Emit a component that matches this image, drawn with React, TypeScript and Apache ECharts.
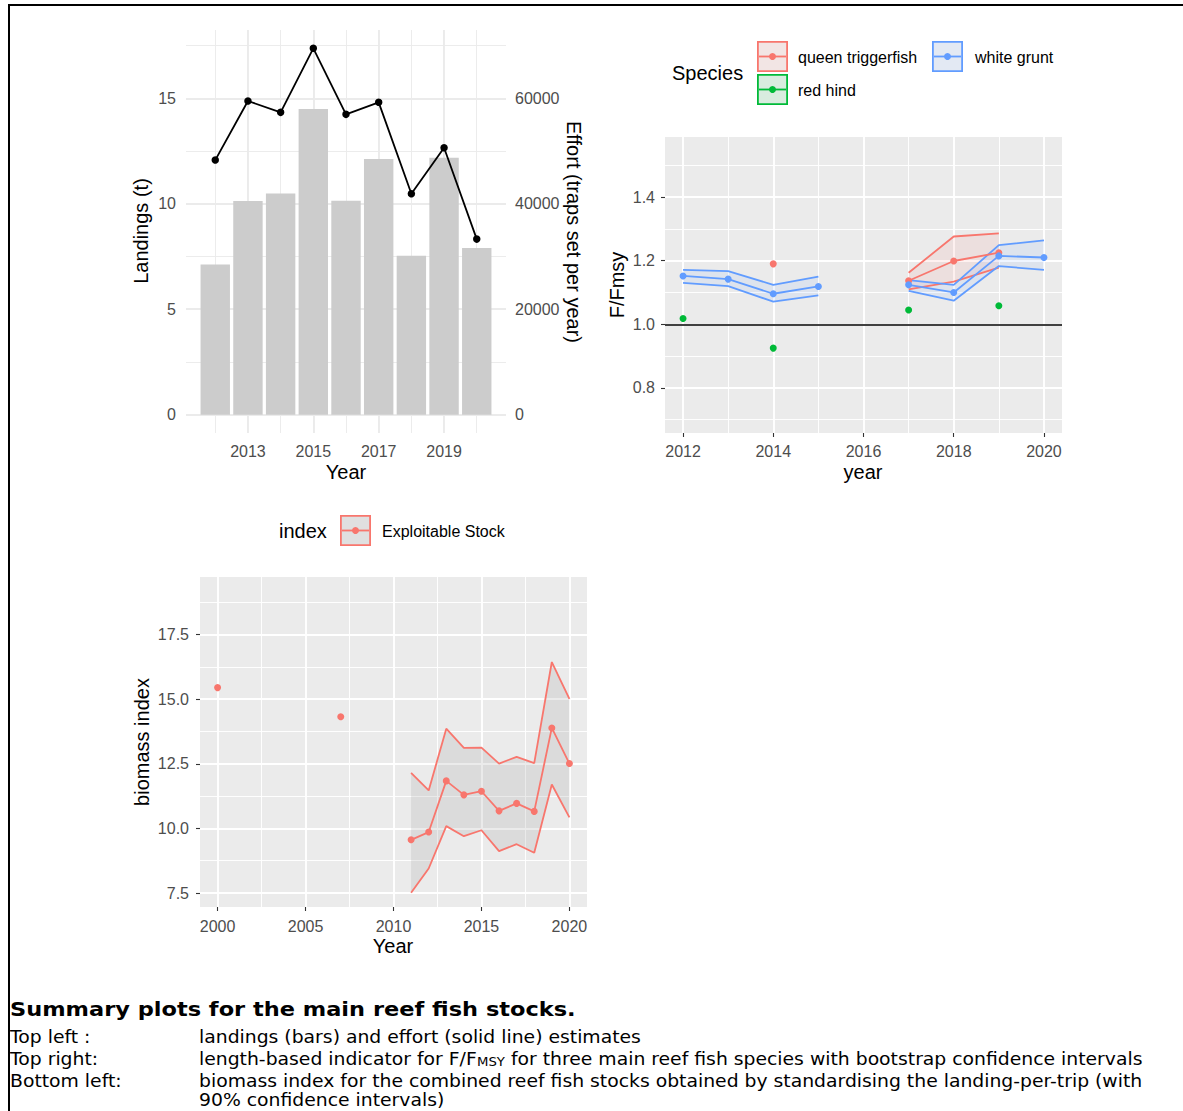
import React, { useEffect, useRef } from "react";
import * as echarts from "echarts";

// ---------- Landings (bars) and effort (line), top left ----------
const LANDING_YEARS = [2012, 2013, 2014, 2015, 2016, 2017, 2018, 2019, 2020];
const LANDINGS_T = [7.12, 10.13, 10.49, 14.49, 10.14, 12.12, 7.53, 12.18, 7.9];
const EFFORT_TRAPS = [48290, 59490, 57340, 69490, 56960, 59240, 41900, 50630, 33300];
const EFFORT_PER_TONNE = 4000; // secondary axis = landings axis x 4000
const LANDING_TICKS = [0, 5, 10, 15];
const LANDING_MINOR = [2.5, 7.5, 12.5, 17.5];
const EFFORT_TICKS = [0, 20000, 40000, 60000];
const TL_YEAR_TICKS = [2013, 2015, 2017, 2019];
const TL_YEAR_MINOR = [2012, 2014, 2016, 2018, 2020];

// ---------- F/Fmsy by species, top right ----------
const FF_YEARS = [2012, 2013, 2014, 2015, 2016, 2017, 2018, 2019, 2020];
const QT_F = [null, null, 1.19, null, null, 1.137, 1.199, 1.225, null];
const QT_LO = [null, null, null, null, null, 1.11, 1.134, 1.178, null];
const QT_HI = [null, null, null, null, null, 1.162, 1.276, 1.286, null];
const RH_F = [1.018, null, 0.925, null, null, 1.045, null, 1.058, null];
const WG_F = [1.152, 1.142, 1.096, 1.119, null, 1.124, 1.1, 1.215, 1.21];
const WG_LO = [1.13, 1.12, 1.071, 1.091, null, 1.105, 1.074, 1.183, 1.171];
const WG_HI = [1.171, 1.167, 1.124, 1.15, null, 1.139, 1.124, 1.249, 1.264];
const F_MSY_REF = 1.0;
const FF_TICKS = [0.8, 1.0, 1.2, 1.4];
const FF_MINOR = [0.7, 0.9, 1.1, 1.3, 1.5];
const FF_YEAR_TICKS = [2012, 2014, 2016, 2018, 2020];
const FF_YEAR_MINOR = [2013, 2015, 2017, 2019];

// ---------- Biomass index, bottom left ----------
const BIO_YEARS = [2000, 2007, 2011, 2012, 2013, 2014, 2015, 2016, 2017, 2018, 2019, 2020];
const BIO_INDEX = [15.45, 14.32, 9.56, 9.86, 11.84, 11.3, 11.44, 10.68, 10.97, 10.66, 13.89, 12.51];
const BIO_LO = [null, null, 7.51, 8.45, 10.09, 9.7, 9.93, 9.12, 9.39, 9.06, 11.7, 10.43];
const BIO_HI = [null, null, 12.15, 11.47, 13.86, 13.12, 13.13, 12.51, 12.77, 12.53, 16.44, 15.01];
const BIO_TICKS = [7.5, 10, 12.5, 15, 17.5];
const BIO_MINOR = [8.75, 11.25, 13.75, 16.25, 18.75];
const BIO_YEAR_TICKS = [2000, 2005, 2010, 2015, 2020];
const BIO_YEAR_MINOR = [2002.5, 2007.5, 2012.5, 2017.5];

// ---------- Caption ----------
const CAPTION_TITLE = "Summary plots for the main reef fish stocks.";
const CAPTION_ROW1 = ["Top left :", "landings (bars) and effort (solid line) estimates"];
const CAPTION_ROW2_LABEL = "Top right:";
const CAPTION_ROW2_PARTS = [
  "length-based indicator for F/F",
  "MSY",
  " for three main reef fish species with bootstrap confidence intervals",
];
const CAPTION_ROW3 = [
  "Bottom left:",
  "biomass index for the combined reef fish stocks obtained by standardising the landing-per-trip (with",
];
const CAPTION_ROW4 = "90% confidence intervals)";

const RED = "#F8766D";
const GREEN = "#00BA38";
const BLUE = "#619CFF";
const FONT = "Liberation Sans";
const AXIS_TEXT = "#4d4d4d";

type Num = number | null;

// Line data with breaks where a value is missing or years are not consecutive.
function lineData(years: number[], values: Num[]) {
  const out: any[] = [];
  for (let i = 0; i < years.length; i++) {
    if (i > 0 && years[i] - years[i - 1] > 1) out.push([(years[i] + years[i - 1]) / 2, null]);
    out.push([years[i], values[i]]);
  }
  return out;
}

// Consecutive runs of [year, lo, hi] for drawing confidence ribbons.
function ribbonRuns(years: number[], lo: Num[], hi: Num[]) {
  const runs: number[][][] = [];
  let cur: number[][] = [];
  for (let i = 0; i < years.length; i++) {
    const ok = lo[i] != null && hi[i] != null;
    const contiguous = i === 0 || years[i] - years[i - 1] === 1;
    if (!ok || !contiguous) {
      if (cur.length > 1) runs.push(cur);
      cur = [];
    }
    if (ok) cur.push([years[i], lo[i] as number, hi[i] as number]);
  }
  if (cur.length > 1) runs.push(cur);
  return runs;
}

function ribbonSeries(run: number[][], xi: number, yi: number, fill: string) {
  return {
    type: "custom",
    xAxisIndex: xi,
    yAxisIndex: yi,
    data: run,
    z: 2,
    silent: true,
    encode: { x: 0, y: [1, 2] },
    renderItem: (params: any, api: any) => {
      if (params.dataIndex !== 0) return null;
      const upper = run.map((r) => api.coord([r[0], r[2]]));
      const lower = run.map((r) => api.coord([r[0], r[1]])).reverse();
      return {
        type: "polygon",
        shape: { points: upper.concat(lower) },
        style: { fill, stroke: "none" },
      };
    },
  };
}

function boundLine(years: number[], vals: Num[], xi: number, yi: number, color: string) {
  return {
    type: "line",
    xAxisIndex: xi,
    yAxisIndex: yi,
    data: lineData(years, vals),
    symbol: "none",
    connectNulls: false,
    silent: true,
    z: 3,
    lineStyle: { color, width: 1.8 },
  };
}

function midLine(years: number[], vals: Num[], xi: number, yi: number, color: string, size = 7) {
  return {
    type: "line",
    xAxisIndex: xi,
    yAxisIndex: yi,
    data: lineData(years, vals),
    symbol: "circle",
    symbolSize: size,
    showSymbol: true,
    connectNulls: false,
    silent: true,
    z: 4,
    itemStyle: { color },
    lineStyle: { color, width: 1.8 },
  };
}

function gridLines(
  xi: number,
  yi: number,
  xMajor: number[],
  xMinor: number[],
  yMajor: number[],
  yMinor: number[],
  color: string
) {
  const mk = (arr: number[], key: string, w: number) =>
    arr.map((v) => ({ [key]: v, lineStyle: { width: w, color, type: "solid" } }));
  return {
    type: "line",
    xAxisIndex: xi,
    yAxisIndex: yi,
    data: [],
    symbol: "none",
    silent: true,
    z: 1,
    markLine: {
      z: 1,
      silent: true,
      animation: false,
      symbol: ["none", "none"],
      label: { show: false },
      emphasis: { disabled: true },
      data: [
        ...mk(yMinor, "yAxis", 0.95),
        ...mk(xMinor, "xAxis", 0.95),
        ...mk(yMajor, "yAxis", 1.9),
        ...mk(xMajor, "xAxis", 1.9),
      ],
    },
  };
}

function measure(txt: string, font: string) {
  const ctx = document.createElement("canvas").getContext("2d");
  if (!ctx) return txt.length * 9;
  ctx.font = font;
  return ctx.measureText(txt).width;
}

function txt(text: string, x: number, y: number, opts: any = {}) {
  const align = opts.align || "left";
  const valign = opts.valign || "middle";
  return {
    type: "text",
    x,
    y,
    rotation: opts.rotation || 0,
    scaleX: opts.scaleX || 1,
    silent: true,
    z: 10,
    style: {
      text,
      fill: opts.color || "#000",
      fontFamily: opts.family || FONT,
      fontSize: opts.size || 16,
      fontWeight: opts.weight || "normal",
      align,
      textAlign: align,
      verticalAlign: valign,
      textVerticalAlign: valign,
    },
  };
}

function legendKey(x: number, y: number, size: number, color: string, fill: string) {
  const cy = y + size / 2;
  return [
    { type: "rect", silent: true, z: 10, shape: { x, y, width: size, height: size }, style: { fill: "#f2f2f2" } },
    {
      type: "rect",
      silent: true,
      z: 10,
      shape: { x: x + 0.9, y: y + 0.9, width: size - 1.8, height: size - 1.8 },
      style: { fill, stroke: color, lineWidth: 1.8 },
    },
    {
      type: "line",
      silent: true,
      z: 11,
      shape: { x1: x + 2, y1: cy, x2: x + size - 2, y2: cy },
      style: { stroke: color, lineWidth: 1.8 },
    },
    { type: "circle", silent: true, z: 12, shape: { cx: x + size / 2, cy, r: 3.5 }, style: { fill: color } },
  ];
}

const numFmt = (v: number) => String(v);
const oneDec = (v: number) => v.toFixed(1);

export default function App() {
  const ref = useRef<HTMLDivElement>(null);

  useEffect(() => {
    if (!ref.current) return;
    document.body.style.margin = "0";
    const chart = echarts.init(ref.current, null, { renderer: "svg" });

    // caption scaling so the condensed caption text spans its column
    const bodyFont = '17px "DejaVu Sans"';
    const titleFont = 'bold 20px "DejaVu Sans"';
    const bodyScale = 944 / measure(CAPTION_ROW3[1], bodyFont);
    const titleScale = 566 / measure(CAPTION_TITLE, titleFont);
    const subFont = '12px "DejaVu Sans"';
    const p0w = measure(CAPTION_ROW2_PARTS[0], bodyFont) * bodyScale;
    const p1w = measure(CAPTION_ROW2_PARTS[1], subFont) * bodyScale;

    const cap = (t: string, x: number, y: number, extra: any = {}) =>
      txt(t, x, y, { family: "DejaVu Sans", size: 17, scaleX: bodyScale, ...extra });
    const COL2 = 199;

    const labelStyle = { color: AXIS_TEXT, fontFamily: FONT, fontSize: 16 };
    const tickStyle = { show: true, length: 4, lineStyle: { color: "#333333", width: 1.1 } };

    const series: any[] = [
      // top left
      gridLines(0, 0, TL_YEAR_TICKS, TL_YEAR_MINOR, LANDING_TICKS, LANDING_MINOR, "#ebebeb"),
      {
        type: "bar",
        xAxisIndex: 0,
        yAxisIndex: 0,
        data: LANDING_YEARS.map((y, i) => [y, LANDINGS_T[i]]),
        barWidth: 29.4,
        itemStyle: { color: "#cccccc" },
        silent: true,
        z: 2,
      },
      {
        type: "line",
        xAxisIndex: 0,
        yAxisIndex: 1,
        data: LANDING_YEARS.map((y, i) => [y, EFFORT_TRAPS[i]]),
        symbol: "circle",
        symbolSize: 7.5,
        silent: true,
        z: 4,
        itemStyle: { color: "#000" },
        lineStyle: { color: "#000", width: 1.8 },
      },
      // top right
      gridLines(1, 2, FF_YEAR_TICKS, FF_YEAR_MINOR, FF_TICKS, FF_MINOR, "#ffffff"),
      ...ribbonRuns(FF_YEARS, QT_LO, QT_HI).map((r) => ribbonSeries(r, 1, 2, "rgba(248,118,109,0.1)")),
      ...ribbonRuns(FF_YEARS, WG_LO, WG_HI).map((r) => ribbonSeries(r, 1, 2, "rgba(97,156,255,0.1)")),
      boundLine(FF_YEARS, QT_LO, 1, 2, RED),
      boundLine(FF_YEARS, QT_HI, 1, 2, RED),
      boundLine(FF_YEARS, WG_LO, 1, 2, BLUE),
      boundLine(FF_YEARS, WG_HI, 1, 2, BLUE),
      {
        type: "line",
        xAxisIndex: 1,
        yAxisIndex: 2,
        data: [],
        silent: true,
        z: 3,
        markLine: {
          z: 3,
          silent: true,
          animation: false,
          symbol: ["none", "none"],
          label: { show: false },
          data: [{ yAxis: F_MSY_REF, lineStyle: { color: "#000", width: 1.6, type: "solid" } }],
        },
      },
      midLine(FF_YEARS, QT_F, 1, 2, RED),
      midLine(FF_YEARS, RH_F, 1, 2, GREEN),
      midLine(FF_YEARS, WG_F, 1, 2, BLUE),
      // bottom left
      gridLines(2, 3, BIO_YEAR_TICKS, BIO_YEAR_MINOR, BIO_TICKS, BIO_MINOR, "#ffffff"),
      ...ribbonRuns(BIO_YEARS, BIO_LO, BIO_HI).map((r) => ribbonSeries(r, 2, 3, "rgba(153,153,153,0.2)")),
      boundLine(BIO_YEARS, BIO_LO, 2, 3, RED),
      boundLine(BIO_YEARS, BIO_HI, 2, 3, RED),
      midLine(BIO_YEARS, BIO_INDEX, 2, 3, RED),
    ];

    const graphic: any[] = [
      // frame
      { type: "line", silent: true, shape: { x1: 8, y1: 5, x2: 1183, y2: 5 }, style: { stroke: "#000", lineWidth: 2 } },
      { type: "line", silent: true, shape: { x1: 9, y1: 4, x2: 9, y2: 1111 }, style: { stroke: "#000", lineWidth: 2 } },
      // top-left titles
      txt("Landings (t)", 141, 231, { size: 20, align: "center", rotation: Math.PI / 2 }),
      txt("Effort (traps set per year)", 574, 232, { size: 20, align: "center", rotation: -Math.PI / 2 }),
      txt("Year", 346, 472, { size: 20, align: "center" }),
      // top-right titles + legend
      txt("F/Fmsy", 617, 285, { size: 20, align: "center", rotation: Math.PI / 2 }),
      txt("year", 863, 472, { size: 20, align: "center" }),
      txt("Species", 672, 73, { size: 20 }),
      ...legendKey(757, 41, 31, RED, "rgba(248,118,109,0.1)"),
      ...legendKey(757, 74, 31, GREEN, "rgba(0,186,56,0.1)"),
      ...legendKey(932, 41, 31, BLUE, "rgba(97,156,255,0.1)"),
      txt("queen triggerfish", 798, 57),
      txt("red hind", 798, 90),
      txt("white grunt", 975, 57),
      // bottom-left titles + legend
      txt("biomass index", 142, 742, { size: 20, align: "center", rotation: Math.PI / 2 }),
      txt("Year", 393, 946, { size: 20, align: "center" }),
      txt("index", 279, 531, { size: 20 }),
      ...legendKey(340, 515, 31, RED, "rgba(153,153,153,0.2)"),
      txt("Exploitable Stock", 382, 531),
      // caption
      txt(CAPTION_TITLE, 10, 1009, { family: "DejaVu Sans", size: 20, weight: "bold", scaleX: titleScale }),
      cap(CAPTION_ROW1[0], 10, 1037),
      cap(CAPTION_ROW1[1], COL2, 1037),
      cap(CAPTION_ROW2_LABEL, 10, 1059),
      cap(CAPTION_ROW2_PARTS[0], COL2, 1059),
      cap(CAPTION_ROW2_PARTS[1], COL2 + p0w, 1062, { size: 12 }),
      cap(CAPTION_ROW2_PARTS[2], COL2 + p0w + p1w, 1059),
      cap(CAPTION_ROW3[0], 10, 1081),
      cap(CAPTION_ROW3[1], COL2, 1081),
      cap(CAPTION_ROW4, COL2, 1100),
    ];

    chart.setOption({
      animation: false,
      backgroundColor: "#ffffff",
      grid: [
        { left: 186, top: 30, width: 320, height: 403, show: false },
        { left: 665, top: 137, width: 397, height: 296, show: true, backgroundColor: "#ebebeb", borderWidth: 0 },
        { left: 200, top: 577, width: 387, height: 330, show: true, backgroundColor: "#ebebeb", borderWidth: 0 },
      ],
      xAxis: [
        {
          type: "value",
          gridIndex: 0,
          min: 2011.105,
          max: 2020.895,
          axisLine: { show: false },
          axisTick: { show: false },
          splitLine: { show: false },
          axisLabel: { ...labelStyle, margin: 10, customValues: TL_YEAR_TICKS, formatter: numFmt },
        },
        {
          type: "value",
          gridIndex: 1,
          min: 2011.6,
          max: 2020.4,
          axisLine: { show: false },
          axisTick: { ...tickStyle, customValues: FF_YEAR_TICKS },
          splitLine: { show: false },
          axisLabel: { ...labelStyle, margin: 10, customValues: FF_YEAR_TICKS, formatter: numFmt },
        },
        {
          type: "value",
          gridIndex: 2,
          min: 1999,
          max: 2021,
          axisLine: { show: false },
          axisTick: { ...tickStyle, customValues: BIO_YEAR_TICKS },
          splitLine: { show: false },
          axisLabel: { ...labelStyle, margin: 11, customValues: BIO_YEAR_TICKS, formatter: numFmt },
        },
      ],
      yAxis: [
        {
          type: "value",
          gridIndex: 0,
          min: -0.87,
          max: 18.24,
          axisLine: { show: false },
          axisTick: { show: false },
          splitLine: { show: false },
          axisLabel: { ...labelStyle, margin: 10, customValues: LANDING_TICKS, formatter: numFmt },
        },
        {
          type: "value",
          gridIndex: 0,
          position: "right",
          min: -0.87 * EFFORT_PER_TONNE,
          max: 18.24 * EFFORT_PER_TONNE,
          axisLine: { show: false },
          axisTick: { show: false },
          splitLine: { show: false },
          axisLabel: { ...labelStyle, margin: 9, customValues: EFFORT_TICKS, formatter: numFmt },
        },
        {
          type: "value",
          gridIndex: 1,
          min: 0.658,
          max: 1.589,
          axisLine: { show: false },
          axisTick: { ...tickStyle, customValues: FF_TICKS },
          splitLine: { show: false },
          axisLabel: { ...labelStyle, margin: 10, customValues: FF_TICKS, formatter: oneDec },
        },
        {
          type: "value",
          gridIndex: 2,
          min: 6.96,
          max: 19.73,
          axisLine: { show: false },
          axisTick: { ...tickStyle, customValues: BIO_TICKS },
          splitLine: { show: false },
          axisLabel: { ...labelStyle, margin: 11, customValues: BIO_TICKS, formatter: oneDec },
        },
      ],
      series,
      graphic,
    });

    return () => chart.dispose();
  }, []);

  return (
    <div
      ref={ref}
      style={{ position: "absolute", left: 0, top: 0, width: 1183, height: 1111, background: "#fff" }}
    />
  );
}
